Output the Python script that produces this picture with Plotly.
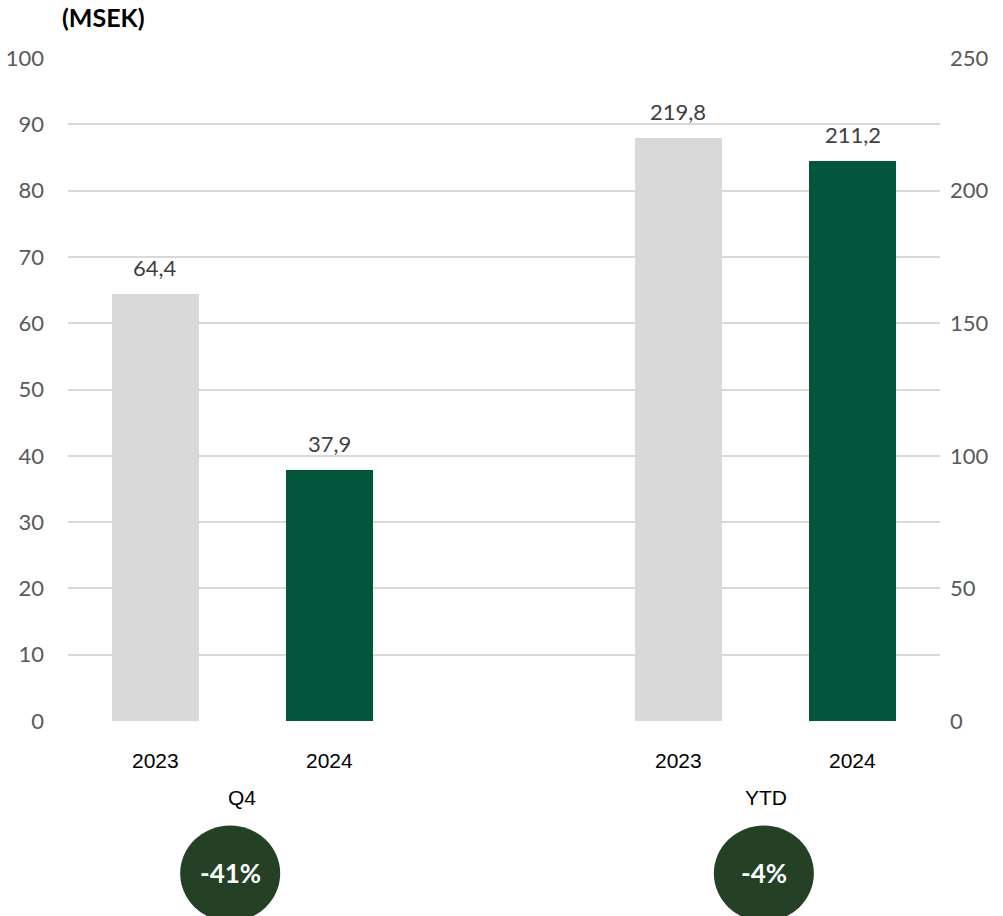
import plotly.graph_objects as go

# Data
groups = ["Q4", "YTD"]
years = ["2023", "2024"]
q4_values = [64.4, 37.9]
ytd_values = [219.8, 211.2]
changes = ["-41%", "-4%"]
left_ticks = list(range(0, 101, 10))
right_ticks = list(range(0, 251, 50))

GREY = "#d9d9d9"
GREEN = "#03563c"
BADGE = "#244126"
TICK_FONT = dict(family="Lato, 'Noto Sans', sans-serif", size=22, color="#595959")
LABEL_FONT = dict(family="Lato, 'Noto Sans', sans-serif", size=22, color="#404040")
CAT_FONT = dict(family="'Liberation Sans', Arial, sans-serif", size=21, color="#000000")


def fmt(v):
    return f"{v:.1f}".replace(".", ",")


# Bars sit at half-unit offsets inside each group; groups are 3 units apart
group_centres = [1.0, 4.0]
offsets = [-0.5, 0.5]
badge_offsets = [-0.07, -0.01]
bar_colors = [GREY, GREEN]
series = [q4_values, ytd_values]
axes = ["y", "y2"]

fig = go.Figure()
annotations = []
shapes = []
for gi, (centre, vals, ax) in enumerate(zip(group_centres, series, axes)):
    xs = [centre + o for o in offsets]
    fig.add_trace(go.Bar(
        x=xs, y=vals, width=0.5, marker=dict(color=bar_colors, line=dict(width=0)),
        yaxis=ax, showlegend=False, hoverinfo="skip",
    ))
    for x, v in zip(xs, vals):
        annotations.append(dict(x=x, y=v, xref="x", yref=ax, text=fmt(v), showarrow=False,
                                yanchor="bottom", yshift=11, font=LABEL_FONT))
    for x, yr in zip(xs, years):
        annotations.append(dict(x=x, y=-0.059, xref="x", yref="paper", text=yr, showarrow=False,
                                yanchor="middle", font=CAT_FONT))
    annotations.append(dict(x=centre, y=-0.115, xref="x", yref="paper", text=groups[gi],
                            showarrow=False, yanchor="middle", font=CAT_FONT))
    bx = centre + badge_offsets[gi]
    shapes.append(dict(type="circle", xref="x", yref="paper", xsizemode="pixel", ysizemode="pixel",
                       xanchor=bx, yanchor=-0.23, x0=-50, x1=50, y0=-48, y1=48,
                       fillcolor=BADGE, line=dict(width=0), layer="above"))
    annotations.append(dict(x=bx, y=-0.23, xref="x", yref="paper", text=f"<b>{changes[gi]}</b>",
                            showarrow=False, yanchor="middle",
                            font=dict(family="Lato, 'Noto Sans', sans-serif", size=26, color="white")))

annotations.append(dict(x=-0.009, y=1.062, xref="paper", yref="paper", text="<b>(MSEK)</b>",
                        showarrow=False, xanchor="left", yanchor="middle",
                        font=dict(family="Lato, 'Noto Sans', sans-serif", size=25, color="#000000")))

fig.update_layout(
    width=1003, height=916,
    margin=dict(l=68, r=63, t=58, b=195),
    paper_bgcolor="white", plot_bgcolor="white",
    bargap=0,
    xaxis=dict(range=[0, 5], showticklabels=False, showgrid=False, zeroline=False, fixedrange=True,
               automargin=False),
    yaxis=dict(range=[0, 100], tickvals=left_ticks, showgrid=True, gridcolor=GREY, gridwidth=1.5,
               zeroline=False, tickfont=TICK_FONT, ticks="", ticklabelstandoff=23, automargin=False),
    yaxis2=dict(range=[0, 250], tickvals=right_ticks, overlaying="y", side="right", showgrid=False,
                zeroline=False, tickfont=TICK_FONT, ticks="", ticklabelstandoff=9, automargin=False),
    annotations=annotations,
    shapes=shapes,
)

fig.write_html("out.html")
